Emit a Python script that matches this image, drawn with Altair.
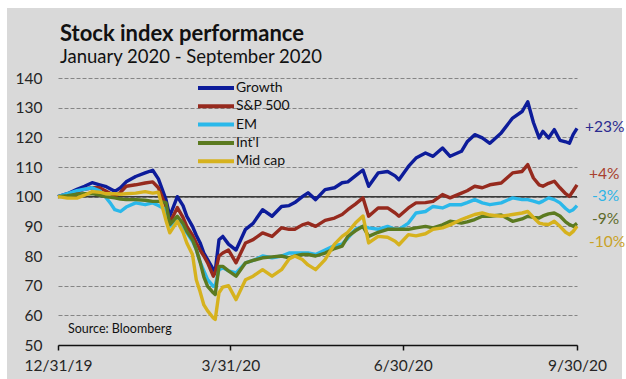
import altair as alt
import pandas as pd

# ---- data ----
series_names = ["Growth", "S&P 500", "EM", "Int'l", "Mid cap"]
series_colors = ["#0d1c9a", "#962a1e", "#2ab8ea", "#5b7a20", "#d6b21e"]

day_offsets = [0, 5, 10, 14, 18, 22, 25, 28, 30, 33, 36, 41, 46, 50, 53, 57, 59, 63, 66, 68,
               71, 73, 75, 77, 79, 82, 83, 85, 87, 90, 94, 99, 103, 108, 113, 118, 122, 125,
               129, 132, 136, 141, 146, 150, 153, 157, 161, 164, 169, 174, 178, 180, 185, 189,
               194, 198, 203, 207, 213, 216, 220, 224, 228, 234, 240, 245, 248, 251, 254, 256,
               259, 262, 265, 268, 270, 272, 274]

growth = [100, 101, 102.5, 103.5, 104.7, 104, 103.5, 102.5, 101.8, 103, 105, 106.8, 108, 108.9,
          106, 99, 93.4, 100, 97, 93.4, 90, 87, 84.5, 81, 78.8, 75.4, 74.9, 85.5, 86.6, 84, 82,
          89, 91, 95.6, 93.4, 96.7, 97, 98, 100, 101.3, 99, 102.4, 103, 104.7, 105, 107, 109,
          103.5, 108, 108.5, 107, 105.7, 110.2, 113, 114.7, 113.6, 116.4, 113.6, 115.3, 118.5,
          120.9, 119.8, 118, 121.5, 126.5, 128.7, 132, 125, 119.8, 122, 119.8, 122.6, 119,
          118.5, 118, 121, 123]

sp500 = [100, 100.5, 101.5, 102.5, 103, 103, 102, 101, 100, 101.5, 103.5, 104, 104.6, 105, 103,
         96.7, 91.2, 96.3, 93, 90, 87, 84.4, 82, 80, 77.7, 73.2, 74.3, 80, 81, 82, 77.7, 84.4,
         85.5, 87.8, 86.6, 89.5, 89, 89, 90.5, 91.1, 90, 92, 92.8, 94, 95.6, 97.5, 99.6, 93.4,
         96.2, 96.2, 94.5, 93.4, 96.2, 97.9, 98, 98.4, 100.7, 99.6, 101.2, 102, 103.5, 103, 104,
         104.6, 108, 108.5, 110.8, 106.3, 104, 103.5, 104.5, 105.2, 103, 101, 100.1, 102, 104]

em = [100, 101, 102, 102.5, 103, 102, 100, 97.5, 95.6, 95, 96.5, 97.9, 97.3, 97.9, 97, 95.6, 90,
      92.8, 90, 87.8, 85, 82.2, 78, 75, 72, 69.8, 70, 75.4, 76, 75, 74.3, 77.7, 78.5, 80, 79.4,
      80, 81, 81, 81, 81, 80.5, 82, 83.5, 84, 86, 89, 90, 89.5, 89, 90, 89, 89, 91.1, 94.5, 95,
      96.7, 96.2, 97.3, 97.3, 98, 99, 97.9, 97.3, 97.9, 99.6, 99, 99, 98.5, 97.9, 98.5, 99.6,
      99, 97.9, 96, 95, 95.6, 97]

intl = [100, 100.3, 100.8, 101, 101, 100.5, 100, 99.8, 99.6, 99.2, 99, 99, 98.8, 98.4, 98.4, 98,
        90.6, 93.4, 91, 88.3, 85.5, 82.2, 78, 73, 69.8, 67.6, 67, 76.5, 76.5, 75, 73.2, 77.7,
        78.5, 79.4, 79.7, 80, 79.4, 80, 80.5, 80.5, 80, 81, 82.5, 83.3, 86.6, 88.5, 90, 86.6, 88,
        89, 89, 89, 89, 89.5, 90, 89.5, 90.5, 91.7, 91.1, 91.5, 92.3, 93.4, 93.4, 93.8, 91.7,
        92.5, 93.4, 93, 92.8, 93.5, 94.2, 94.5, 93.5, 91.5, 90.6, 90, 91]

midcap = [100, 99.5, 99.5, 100.5, 101.7, 101.5, 101, 101, 101, 100.8, 101, 101.2, 101.7, 101.2,
          101.5, 92, 87.8, 91.7, 88, 84.4, 80.5, 72, 68, 63.5, 61.5, 59.1, 58.6, 67.6, 69.5, 70,
          65.3, 72, 73.2, 75.4, 73.2, 75.4, 79, 80, 78.8, 77, 75.4, 78.8, 84, 86.6, 88, 91.1,
          93.5, 84.4, 86.6, 86.3, 85, 83.8, 87.2, 86.8, 87.5, 89, 89.5, 90.5, 92.3, 93, 94, 94.5,
          93.8, 93.4, 94, 94.5, 95, 93, 91.1, 90.8, 90.6, 91.7, 90, 88, 87.2, 88.3, 90]

end_labels = ["+23%", "+4%", "-3%", "-9%", "-10%"]
end_label_colors = ["#2b2b8f", "#a8402e", "#2fb4e6", "#5e6b2c", "#c9a227"]

y_ticks = [50, 60, 70, 80, 90, 100, 110, 120, 130, 140]

# ---- build table ----
dates = pd.Timestamp("2019-12-31") + pd.to_timedelta(day_offsets, unit="D")
rows = []
for name, vals in zip(series_names, [growth, sp500, em, intl, midcap]):
    for d, v in zip(dates, vals):
        rows.append({"date": d, "series": name, "value": v, "order": series_names.index(name)})
df = pd.DataFrame(rows)

FONT = "Lato"
W, H = 519, 267
x0, y0 = 58, 78

x_enc = alt.X("date:T",
              scale=alt.Scale(domain=[alt.DateTime(year=2019, month=12, date=31),
                                      alt.DateTime(year=2020, month=9, date=30)]),
              axis=alt.Axis(values=[alt.DateTime(year=2019, month=12, date=31),
                                    alt.DateTime(year=2020, month=3, date=31),
                                    alt.DateTime(year=2020, month=6, date=30),
                                    alt.DateTime(year=2020, month=9, date=30)],
                            format="%-m/%d/%y", title=None, grid=False,
                            domainColor="#111111", domainWidth=1.5,
                            tickColor="#111111", tickSize=5, tickWidth=1.5,
                            labelFont=FONT, labelFontSize=15.5, labelColor="#262626",
                            labelPadding=8, labelFlush=False, labelOverlap=False))

y_enc = alt.Y("value:Q",
              scale=alt.Scale(domain=[50, 140], nice=False, zero=False),
              axis=alt.Axis(values=y_ticks, title=None, domain=False, ticks=False, tickSize=0,
                            grid=True, gridDash=[4, 2], gridColor="#858585", gridWidth=1,
                            labelFont=FONT, labelFontSize=15.5, labelColor="#262626",
                            labelPadding=16))

one = pd.DataFrame({"k": [0]})

# white frame around the grey panel (the chart background itself is grey)
frame = [
    alt.Chart(one).mark_rect(color="white").encode(
        x=alt.value(-x0), x2=alt.value(7 - x0), y=alt.value(-y0), y2=alt.value(379 - y0)),
    alt.Chart(one).mark_rect(color="white").encode(
        x=alt.value(-x0), x2=alt.value(626 - x0), y=alt.value(-y0), y2=alt.value(8 - y0)),
    alt.Chart(one).mark_rect(color="white").encode(
        x=alt.value(622 - x0), x2=alt.value(626 - x0), y=alt.value(-y0), y2=alt.value(379 - y0)),
]

base_rule = alt.Chart(pd.DataFrame({"value": [100]})).mark_rule(
    color="#3a3a3a", strokeWidth=1.5).encode(y=y_enc)

lines = alt.Chart(df).mark_line(strokeWidth=3.4, strokeJoin="round").encode(
    x=x_enc,
    y=y_enc,
    color=alt.Color("series:N",
                    scale=alt.Scale(domain=series_names, range=series_colors),
                    sort=series_names,
                    legend=alt.Legend(title=None, orient="none", legendX=138, legendY=2,
                                      symbolType="stroke", symbolSize=1296,
                                      symbolStrokeWidth=4, labelFont=FONT,
                                      labelFontSize=14, labelColor="#111111",
                                      labelOffset=0, rowPadding=2.3, clipHeight=16)),
    order=alt.Order("order:Q"),
)

def txt(text, x, y, size, color="#111111", weight="normal", baseline="alphabetic"):
    return alt.Chart(one).mark_text(
        text=text, font=FONT, fontSize=size, fontWeight=weight, color=color,
        align="left", baseline=baseline).encode(x=alt.value(x - x0), y=alt.value(y - y0))

title = txt("Stock index performance", 60, 41, 22, weight="bold")
subtitle = txt("January 2020 - September 2020", 60, 63, 18.5)
source = txt("Source: Bloomberg", 68, 333, 12.5)

label_pos = [(585, 127), (589, 174), (592, 196), (592, 219), (589, 242)]
labels = [txt(t, px, py, 15.5, color=c, baseline="middle")
          for t, c, (px, py) in zip(end_labels, end_label_colors, label_pos)]

chart = alt.layer(*frame, base_rule, lines, title, subtitle, source, *labels).properties(
    width=W, height=H,
    padding={"left": x0, "top": y0, "right": 626 - x0 - W, "bottom": 379 - y0 - H},
    autosize=alt.AutoSizeParams(type="none"),
    background="#d9d9d9",
).configure_view(stroke=None)

chart.save("out.html", embed_options={"renderer": "svg", "actions": False})
